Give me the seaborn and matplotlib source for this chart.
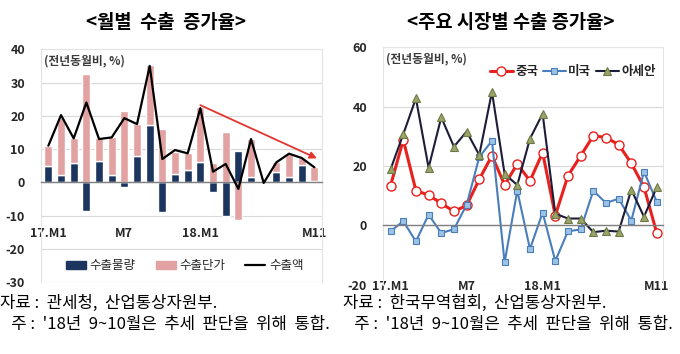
import numpy as np
import pandas as pd
import seaborn as sns
import matplotlib.pyplot as plt
from matplotlib.patches import Patch
from matplotlib.lines import Line2D

# 월별 수출 증가율 (전년동월비, %) : 17.M1 ~ 18.M11, 18년 9~10월 통합
months = ["17.M1", "M2", "M3", "M4", "M5", "M6", "M7", "M8", "M9", "M10", "M11", "M12",
          "18.M1", "M2", "M3", "M4", "M5", "M6", "M7", "M8", "M9~10", "M11"]
tick_idx = [0, 6, 12, 21]
tick_text = ["17.M1", "M7", "18.M1", "M11"]

volume = [5.0, 2.2, 5.7, -8.5, 6.5, 2.1, -1.5, 8.0, 17.2, -9.0, 2.4, 3.7,
          6.0, -2.8, -10.0, 9.3, 1.7, -0.3, 3.2, 1.7, 5.1, 0.5]
unit_price = [6.0, 17.0, 7.5, 32.5, 6.7, 11.4, 21.5, 9.5, 18.1, 16.0, 6.6, 5.0,
              16.5, 5.9, 15.2, -11.3, 11.3, 0.0, 2.8, 6.8, 2.3, 4.1]
export_total = [11.0, 20.2, 13.2, 24.0, 13.0, 13.5, 19.3, 17.5, 35.0, 7.0, 9.7, 8.7,
                22.3, 3.2, 5.5, -2.0, 13.0, -0.2, 6.0, 8.6, 7.3, 4.5]

# 주요 시장별 수출 증가율
china = [13.4, 28.8, 11.7, 10.2, 7.4, 4.7, 6.7, 15.5, 23.5, 13.6, 20.7, 15.0,
         24.5, 3.3, 16.7, 23.4, 30.2, 29.6, 27.2, 20.9, 12.9, -2.5]
usa = [-2.0, 1.4, -5.4, 3.6, -2.6, -1.3, 6.9, 23.0, 28.5, -12.5, 11.7, -8.0,
       4.3, -12.0, -2.0, -1.4, 11.7, 7.5, 9.0, 1.6, 18.1, 8.0]
asean = [18.9, 30.7, 42.8, 19.4, 36.4, 26.5, 31.6, 23.7, 45.0, 17.3, 13.6, 29.2,
         37.6, 3.9, 2.3, 2.3, -2.3, -1.8, -2.1, 12.0, 2.9, 12.8]

# 추세 화살표 (18.M1 -> M11)
trend_start = (12.0, 23.2)
trend_end = (21.2, 7.2)

navy = "#1B355E"
pink = "#E3A2A2"
grid_c = "#D9D9D9"
axis_c = "#7F7F7F"
txt_c = "#262626"

sns.set_style("white")
plt.rcParams['font.family'] = ['Noto Sans CJK KR', 'DejaVu Sans']
plt.rcParams['axes.unicode_minus'] = False

x = np.arange(len(months))
df = pd.DataFrame({"idx": x, "month": months, "vol": volume, "price": unit_price,
                   "total": export_total, "china": china, "usa": usa, "asean": asean})
# 같은 부호면 물량 위에 쌓고, 다르면 0에서 시작
price_bottom = np.where(np.sign(df["vol"]) == np.sign(df["price"]), df["vol"], 0.0)

fig = plt.figure(figsize=(6.8, 3.54), dpi=100)
ax1 = fig.add_axes([0.0603, 0.2034, 0.4132, 0.6573])
ax2 = fig.add_axes([0.5632, 0.1958, 0.4118, 0.6706])


def style_axes(ax, ylo, yhi, step, xpad):
    ax.set_ylim(ylo, yhi)
    ax.set_yticks(np.arange(ylo, yhi + 1, step))
    ax.yaxis.grid(True, color=grid_c, lw=0.8)
    ax.set_axisbelow(True)
    for s in ["left", "right", "top"]:
        ax.spines[s].set_visible(True)
        ax.spines[s].set_color("#E3E3E3")
        ax.spines[s].set_linewidth(0.8)
    ax.spines["bottom"].set_position(("data", 0))
    ax.spines["bottom"].set_color(axis_c)
    ax.spines["bottom"].set_linewidth(1.0)
    ax.set_xticks(tick_idx)
    ax.set_xticklabels(tick_text)
    ax.set_xticks(np.arange(-0.5, len(months), 1.0), minor=True)
    ax.tick_params(axis="x", which="major", length=0, pad=xpad, labelsize=9, labelcolor=txt_c)
    ax.tick_params(axis="x", which="minor", length=3, width=0.8, color=axis_c, direction="out")
    ax.tick_params(axis="y", length=0, pad=11.5, labelsize=9, labelcolor=txt_c)
    for lab in ax.get_xticklabels() + ax.get_yticklabels():
        lab.set_fontweight("bold")
    ax.set_xlabel("")
    ax.set_ylabel("")
    ax.text(0.01, 0.95, "(전년동월비, %)", transform=ax.transAxes, fontsize=8.5,
            fontweight="bold", color="#3A3A3A", va="center", ha="left")


# 왼쪽: 월별 수출 증가율
sns.barplot(data=df, x="idx", y="vol", color=navy, saturation=1, width=0.65, ax=ax1)
ax1.bar(df["idx"], df["price"], bottom=price_bottom, width=0.65, color=pink, zorder=1.5)
sns.lineplot(data=df, x="idx", y="total", color="black", lw=1.6, ax=ax1, zorder=3)
ax1.annotate("", xy=trend_end, xytext=trend_start,
             arrowprops=dict(arrowstyle="-|>", color="#E3342F", lw=1.3, mutation_scale=10,
                             shrinkA=0, shrinkB=0), zorder=4)
ax1.set_xlim(-0.58, 21.6)
style_axes(ax1, -30, 40, 10, 32)

handles1 = [Patch(color=navy), Patch(color=pink), Line2D([], [], color="black", lw=1.6)]
ax1.legend(handles1, ["수출물량", "수출단가", "수출액"], loc="center",
           bbox_to_anchor=(0.512, 0.069), ncol=3, frameon=False, fontsize=9,
           handlelength=1.6, handleheight=0.7, handletextpad=0.3, columnspacing=1.6)

# 오른쪽: 주요 시장별 수출 증가율
sns.lineplot(data=df, x="idx", y="china", color="#E8201E", lw=2.2, marker="o",
             markersize=6.5, markerfacecolor="white", markeredgecolor="#E8201E",
             markeredgewidth=1.0, label="중국", ax=ax2)
sns.lineplot(data=df, x="idx", y="usa", color="#4A7EBB", lw=1.5, marker="s",
             markersize=4.5, markerfacecolor="#9CC3E5", markeredgecolor="#4A7EBB",
             markeredgewidth=0.8, label="미국", ax=ax2)
sns.lineplot(data=df, x="idx", y="asean", color="#1C1C3A", lw=1.5, marker="^",
             markersize=6, markerfacecolor="#9AA46A", markeredgecolor="#6E7A45",
             markeredgewidth=0.8, label="아세안", ax=ax2)
ax2.set_xlim(-0.6, 21.4)
style_axes(ax2, -20, 60, 20, 39)
leg = ax2.legend(loc="center right", bbox_to_anchor=(1.0, 0.896), ncol=3, frameon=False,
                 fontsize=9, handlelength=1.8, handletextpad=0.2, columnspacing=0.4,
                 borderaxespad=0.2)
for t in leg.get_texts():
    t.set_fontweight("bold")
    t.set_color(txt_c)

# 제목
fig.text(166 / 680, 1 - 22 / 354, "<월별  수출  증가율>", ha="center", va="center",
         fontsize=13.5, fontweight="bold", color="black")
fig.text(511 / 680, 1 - 22 / 354, "<주요 시장별 수출 증가율>", ha="center", va="center",
         fontsize=13.5, fontweight="bold", color="black")

# 자료 / 주
note_fs = 12
fig.text(0.0, 1 - 303 / 354, "자료 :  관세청,  산업통상자원부.", ha="left", va="center",
         fontsize=note_fs, color="black")
fig.text(0.0, 1 - 325 / 354, "   주 :  '18년  9~10월은  추세  판단을  위해  통합.", ha="left",
         va="center", fontsize=note_fs, color="black")
fig.text(343 / 680, 1 - 303 / 354, "자료 :  한국무역협회,  산업통상자원부.", ha="left",
         va="center", fontsize=note_fs, color="black")
fig.text(343 / 680, 1 - 325 / 354, "   주 :  '18년  9~10월은  추세  판단을  위해  통합.", ha="left",
         va="center", fontsize=note_fs, color="black")

fig.savefig("out.png", dpi=100)
